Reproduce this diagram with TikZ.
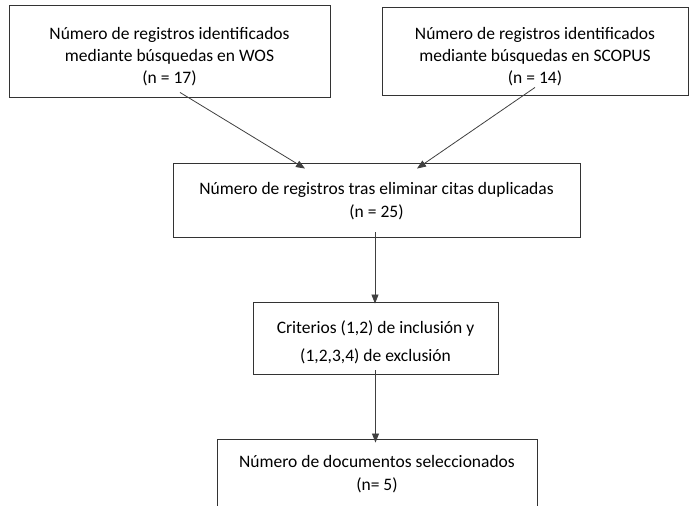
\documentclass[tikz,border=0pt]{standalone}
\usepackage{fontspec}
\setmainfont{Carlito}
\usetikzlibrary{arrows.meta,calc}
\begin{document}
\begin{tikzpicture}[x=1pt,y=-1pt,
  box/.style={draw=black!80,line width=0.9pt,inner sep=0pt},
  txt/.style={align=center,inner sep=0pt,font=\fontsize{17.5}{22}\selectfont},
  arr/.style={draw=black!75,line width=0.8pt,-{Triangle[length=9pt,width=7pt]}}]
\useasboundingbox (0,0) rectangle (689,506);
\clip (0,0) rectangle (689,506);
\node[box,minimum width=321pt,minimum height=92pt] (wos) at (169.5,51) {};
\node[txt] (wostext) at (169.5,57) {Número de registros identificados\\mediante búsquedas en WOS\\(n = 17)};
\node[box,minimum width=306pt,minimum height=88pt] (scopus) at (535,51) {};
\node[txt] (scopustext) at (535,57) {Número de registros identificados\\mediante búsquedas en SCOPUS\\(n = 14)};
\node[box,minimum width=407pt,minimum height=74pt] (dup) at (376.5,200) {};
\node[txt,font=\fontsize{17.5}{23}\selectfont] (duptext) at (376.5,201) {Número de registros tras eliminar citas duplicadas\\(n = 25)};
\node[box,minimum width=245pt,minimum height=72pt] (crit) at (375.5,338) {};
\node[txt,font=\fontsize{17.5}{28}\selectfont] (crittext) at (375.5,342) {Criterios (1,2) de inclusión y\\(1,2,3,4) de exclusión};
\node[box,minimum width=320pt,minimum height=110pt] (sel) at (377,494) {};
\node[txt,font=\fontsize{17.5}{23}\selectfont] (seltext) at (377,474) {Número de documentos seleccionados\\(n= 5)};
\draw[arr] ([xshift=10.5pt,yshift=5pt]wos.south) -- ([xshift=-71.5pt,yshift=-6pt]dup.north);
\draw[arr] ([yshift=8pt]scopus.south) -- ([xshift=40.5pt,yshift=-6pt]dup.north);
\draw[arr] ([xshift=-1.5pt,yshift=5pt]dup.south) -- ([xshift=-0.5pt,yshift=-2pt]crit.north);
\draw[arr] ([yshift=4pt]crit.south) -- ([yshift=-4pt]crit.south |- sel.north);
\end{tikzpicture}
\end{document}
